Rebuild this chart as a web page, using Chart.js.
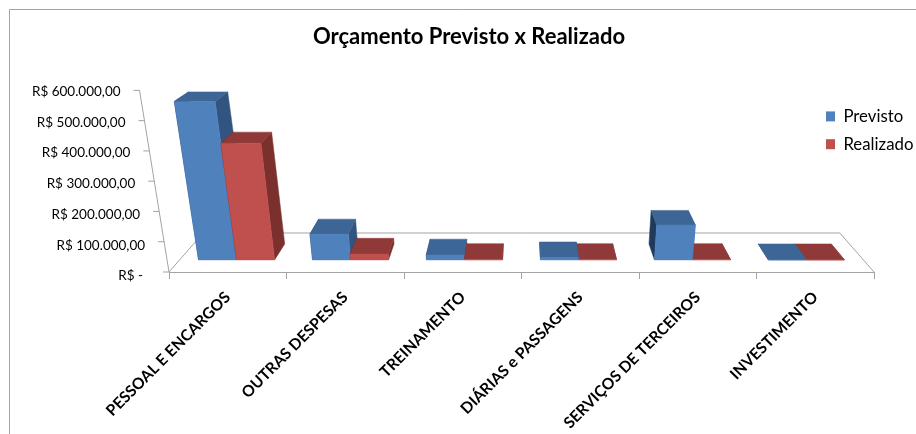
<!DOCTYPE html>
<html>
<head>
<meta charset="utf-8">
<title>Orçamento Previsto x Realizado</title>
<script src="https://cdn.jsdelivr.net/npm/chart.js@4/dist/chart.umd.min.js"></script>
<style>
    html, body { margin: 0; padding: 0; background: #ffffff; }
    canvas { display: block; }
</style>
</head>
<body>
<canvas id="chart" width="916" height="434"></canvas>
<script>
// Values
const categories = ['PESSOAL E ENCARGOS', 'OUTRAS DESPESAS', 'TREINAMENTO', 'DIÁRIAS e PASSAGENS', 'SERVIÇOS DE TERCEIROS', 'INVESTIMENTO'];
const previsto = [540000, 88000, 17000, 7000, 119000, 0];
const realizado = [397000, 20000, 1000, 1000, 1000, 0];
const valueTickLabels = ['R$ -  ', 'R$ 100.000,00', 'R$ 200.000,00', 'R$ 300.000,00', 'R$ 400.000,00', 'R$ 500.000,00', 'R$ 600.000,00'];

const FONT = 'Lato, Carlito, sans-serif';
const AXIS_COLOR = '#a3a3a3';
const TEXT_COLOR = '#000000';

// Face shades for the 3D look
const Shades = {
    '#4f81bd': { top: '#3d6595', side: '#325480', dark: '#1f3a5c' },
    '#c0504d': { top: '#8f3a38', side: '#7c302e', dark: '#5e2422' }
};

// Depth of the floor and of the bars, 0 = front edge, 1 = back edge
const BAR_FRONT = 0.31;
const BAR_BACK = 0.72;

/**
 * Project a point given in scale pixels (x, h above the floor, depth d) on the tilted view
 */
function project(area, x, h, d) {
    const cx = (area.left + area.right) / 2;
    const shrink = 1 - 0.097 * d;
    const spread = 1 + 0.00046 * h;
    return {
        x: cx + (x - cx) * shrink * spread,
        y: area.bottom - 39 * d - h * shrink
    };
}

function fillFace(ctx, color, points) {
    ctx.fillStyle = color;
    ctx.strokeStyle = color;
    ctx.lineWidth = 0.5;
    ctx.beginPath();
    points.forEach((p, i) => i ? ctx.lineTo(p.x, p.y) : ctx.moveTo(p.x, p.y));
    ctx.closePath();
    ctx.fill();
    ctx.stroke();
}

function drawBar(ctx, area, bar, color) {
    const shade = Shades[color];
    const left = bar.x - bar.width / 2;
    const right = bar.x + bar.width / 2;
    const h = area.bottom - bar.y;

    const fbl = project(area, left, 0, BAR_FRONT);
    const fbr = project(area, right, 0, BAR_FRONT);
    const ftl = project(area, left, h, BAR_FRONT);
    const ftr = project(area, right, h, BAR_FRONT);
    const bbl = project(area, left, 0, BAR_BACK);
    const bbr = project(area, right, 0, BAR_BACK);
    const btl = project(area, left, h, BAR_BACK);
    const btr = project(area, right, h, BAR_BACK);

    fillFace(ctx, shade.dark, [fbl, bbl, btl, ftl]);
    fillFace(ctx, shade.side, [fbr, bbr, btr, ftr]);
    fillFace(ctx, shade.top, [ftl, ftr, btr, btl]);
    fillFace(ctx, color, [fbl, fbr, ftr, ftl]);
}

const tiltedView = {
    id: 'tiltedView',
    // Legend and title sit where the reference has them, outside of the layout boxes
    afterLayout(chart) {
        const legend = chart.legend;
        legend.left = 815;
        legend.top = 97;
        legend.right = 916;
        legend.bottom = 170;
        chart.titleBlock.left = 22;
        chart.titleBlock.right = 916;
    },
    beforeDraw(chart) {
        const ctx = chart.ctx;
        ctx.save();
        ctx.strokeStyle = AXIS_COLOR;
        ctx.lineWidth = 1;
        ctx.beginPath();
        ctx.moveTo(9.5, 434);
        ctx.lineTo(9.5, 9.5);
        ctx.lineTo(916, 9.5);
        ctx.stroke();
        ctx.restore();
    },
    // Floor and value axis
    beforeDatasetsDraw(chart) {
        const ctx = chart.ctx;
        const area = chart.chartArea;
        const yScale = chart.scales.y;
        const backLeft = project(area, area.left, 0, 1);
        const backRight = project(area, area.right, 0, 1);

        ctx.save();
        ctx.strokeStyle = AXIS_COLOR;
        ctx.lineWidth = 1;
        ctx.beginPath();
        ctx.moveTo(area.left, area.bottom);
        ctx.lineTo(backLeft.x, backLeft.y);
        ctx.lineTo(backRight.x, backRight.y);
        ctx.lineTo(area.right, area.bottom);
        const axisTop = project(area, area.left, area.bottom - yScale.getPixelForValue(yScale.max), 0);
        ctx.moveTo(area.left, area.bottom);
        ctx.lineTo(axisTop.x, axisTop.y);
        ctx.stroke();

        ctx.fillStyle = TEXT_COLOR;
        ctx.font = '13.5px ' + FONT;
        ctx.textAlign = 'right';
        ctx.textBaseline = 'middle';
        yScale.ticks.forEach(tick => {
            const p = project(area, area.left, area.bottom - yScale.getPixelForValue(tick.value), 0);
            ctx.beginPath();
            ctx.moveTo(p.x, p.y);
            ctx.lineTo(p.x - 6, p.y);
            ctx.stroke();
            // labels spread a little wider than the ticks
            const labelY = p.y + 4 + (tick.value / yScale.max) * -3;
            ctx.fillText(tick.label, p.x - 19, labelY);
        });

        // Bars, the one nearest to the middle of the view goes last
        const blue = chart.getDatasetMeta(0);
        const red = chart.getDatasetMeta(1);
        const cx = (area.left + area.right) / 2;
        blue.data.forEach((bar, i) => {
            const order = bar.x < cx ? [0, 1] : [1, 0];
            order.forEach(k => {
                const meta = k === 0 ? blue : red;
                drawBar(ctx, area, meta.data[i], chart.data.datasets[k].backgroundColor);
            });
        });
        ctx.restore();
        return false;
    }
};

new Chart(document.getElementById('chart'), {
    type: 'bar',
    data: {
        labels: categories,
        datasets: [
            { label: 'Previsto', data: previsto, backgroundColor: '#4f81bd' },
            { label: 'Realizado', data: realizado, backgroundColor: '#c0504d' }
        ]
    },
    options: {
        responsive: false,
        animation: false,
        datasets: { bar: { categoryPercentage: 0.667, barPercentage: 1 } },
        layout: { padding: { left: 169, right: 42, top: 24, bottom: 0 } },
        plugins: {
            title: {
                display: true,
                text: 'Orçamento Previsto x Realizado',
                color: TEXT_COLOR,
                font: { family: FONT, size: 22, weight: 'bold' },
                padding: { top: 0, bottom: 40 }
            },
            legend: {
                position: 'chartArea',
                align: 'start',
                labels: {
                    color: TEXT_COLOR,
                    font: { family: FONT, size: 16.8 },
                    boxWidth: 9,
                    boxHeight: 10,
                    padding: 11
                }
            },
            tooltip: { enabled: false }
        },
        scales: {
            x: {
                afterFit(scale) { scale.height = 162; },
                border: { color: AXIS_COLOR },
                grid: { color: AXIS_COLOR, drawOnChartArea: false, tickLength: 7 },
                ticks: {
                    color: TEXT_COLOR,
                    font: { family: FONT, size: 15.6, weight: 'bold' },
                    minRotation: 45,
                    maxRotation: 45,
                    autoSkip: false,
                    padding: 9
                }
            },
            y: {
                display: false,
                min: 0,
                max: 600000,
                ticks: {
                    stepSize: 100000,
                    callback: (value, index) => valueTickLabels[index]
                }
            }
        }
    },
    plugins: [tiltedView]
});
</script>
</body>
</html>
